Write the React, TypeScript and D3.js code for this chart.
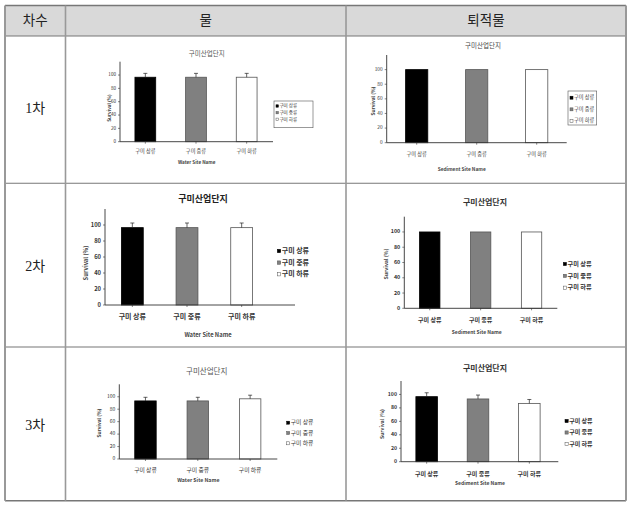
import * as d3 from "d3";

// --- data ---
const ROUNDS = ["1차", "2차", "3차"];
const MEDIA = ["물", "퇴적물"];
const SITES = ["구미 상류", "구미 중류", "구미 하류"];
const Y_TICKS = [0, 20, 40, 60, 80, 100];

const WATER_1 = [96.7, 96.7, 96.7];
const WATER_1_ERR = [5.8, 5.8, 5.8];
const SEDIMENT_1 = [100, 100, 100];
const SEDIMENT_1_ERR = [0, 0, 0];
const WATER_2 = [96.7, 96.7, 96.7];
const WATER_2_ERR = [5.8, 5.8, 5.8];
const SEDIMENT_2 = [100, 100, 100];
const SEDIMENT_2_ERR = [0, 0, 0];
const WATER_3 = [93.3, 93.3, 96.7];
const WATER_3_ERR = [5.8, 5.8, 5.8];
const SEDIMENT_3 = [96.7, 93.3, 86.7];
const SEDIMENT_3_ERR = [5.8, 5.8, 5.8];

const TITLE = "구미산업단지";
const Y_TITLE = "Survival (%)";

const BAR_FILL = ["#000000", "#808080", "#ffffff"];
const BAR_STROKE = ["#000000", "#555555", "#555555"];
const FONT = "'Noto Sans CJK KR', 'Noto Sans', sans-serif";
const SERIF = "'Liberation Serif', 'Noto Sans CJK KR', serif";

type ChartCfg = {
  values: number[];
  errs: number[];
  xTitle: string;
  axisX: number;
  y0: number;
  yTop: number;
  bandEnd: number;
  axisEnd: number;
  pad: number;
  title: [number, number, number, boolean, string];
  tick: number;
  labelY: number;
  labelSize: number;
  xTitlePos: [number, number, number];
  yTitlePos: [number, number, number];
  legend: [number, number, number, number, number];
  box?: [number, number, number, number];
  bold: boolean;
};

const CHARTS: ChartCfg[] = [
  {
    values: WATER_1, errs: WATER_1_ERR, xTitle: "Water Site Name",
    axisX: 120, y0: 141.7, yTop: 61.7, bandEnd: 272, axisEnd: 273, pad: 0.59,
    title: [206.7, 55.5, 6.5, false, "#555"], tick: 4.6, labelY: 152, labelSize: 5.2,
    xTitlePos: [196.7, 162.5, 4.6], yTitlePos: [109.5, 108, 4.6],
    legend: [276, 106, 6.65, 2.4, 4.6], box: [274, 101, 39, 26.7], bold: false,
  },
  {
    values: SEDIMENT_1, errs: SEDIMENT_1_ERR, xTitle: "Sediment Site Name",
    axisX: 386.7, y0: 142.7, yTop: 55, bandEnd: 566.7, axisEnd: 566.7, pad: 0.63,
    title: [483, 47.5, 6.5, false, "#444"], tick: 4.8, labelY: 154.5, labelSize: 5.2,
    xTitlePos: [461.7, 170, 4.8], yTitlePos: [373.5, 101, 4.8],
    legend: [570, 97.7, 11.65, 3, 5.2], box: [568, 91, 28.7, 34], bold: false,
  },
  {
    values: WATER_2, errs: WATER_2_ERR, xTitle: "Water Site Name",
    axisX: 105, y0: 305, yTop: 209, bandEnd: 269, axisEnd: 295, pad: 0.6,
    title: [203, 201.5, 9, true, "#222"], tick: 5.8, labelY: 317.5, labelSize: 7,
    xTitlePos: [208, 335.5, 5.8], yTitlePos: [86, 263, 5.8],
    legend: [277.3, 251, 11.6, 3.4, 7], bold: true,
  },
  {
    values: SEDIMENT_2, errs: SEDIMENT_2_ERR, xTitle: "Sediment Site Name",
    axisX: 404.3, y0: 308.3, yTop: 216.7, bandEnd: 557, axisEnd: 557.3, pad: 0.6,
    title: [485, 205, 8, true, "#333"], tick: 5.4, labelY: 320.5, labelSize: 6,
    xTitlePos: [476.7, 333, 5], yTitlePos: [387, 264, 5.2],
    legend: [563.3, 264, 11.85, 3.2, 6.2], bold: true,
  },
  {
    values: WATER_3, errs: WATER_3_ERR, xTitle: "Water Site Name",
    axisX: 119.3, y0: 459, yTop: 384.3, bandEnd: 276.3, axisEnd: 277.3, pad: 0.59,
    title: [206.7, 373.5, 7.5, false, "#555"], tick: 5, labelY: 470.5, labelSize: 5.8,
    xTitlePos: [198.3, 481, 5.2], yTitlePos: [100, 423, 4.8],
    legend: [286.7, 422.7, 10.3, 3, 5.8], bold: false,
  },
  {
    values: SEDIMENT_3, errs: SEDIMENT_3_ERR, xTitle: "Sediment Site Name",
    axisX: 401, y0: 461.7, yTop: 381, bandEnd: 555, axisEnd: 558.3, pad: 0.58,
    title: [485, 370.5, 8, true, "#333"], tick: 5.2, labelY: 474, labelSize: 6,
    xTitlePos: [480, 484, 5], yTitlePos: [382.5, 424, 5],
    legend: [565, 421, 11.5, 3.2, 6], bold: true,
  },
];

function BarChart({ c }: { c: ChartCfg }) {
  const y = d3.scaleLinear().domain([0, 120]).range([c.y0, c.yTop]);
  const x = d3
    .scaleBand<string>()
    .domain(SITES)
    .range([c.axisX, c.bandEnd])
    .paddingInner(c.pad)
    .paddingOuter(c.pad / 2);
  const fw = c.bold ? 700 : 400;
  const [lx, ly, lstep, sq, lsize] = c.legend;

  return (
    <g fontFamily={FONT} fill="#333">
      <text x={c.title[0]} y={c.title[1]} fontSize={c.title[2]}
        fontWeight={c.title[3] ? 700 : 400} fill={c.title[4]} textAnchor="middle">
        {TITLE}
      </text>

      {/* bars */}
      {SITES.map((s, i) => {
        const x0 = x(s) as number;
        const top = y(c.values[i]);
        const cx = x0 + x.bandwidth() / 2;
        return (
          <g key={s}>
            <rect x={x0} y={top} width={x.bandwidth()} height={c.y0 - top}
              fill={BAR_FILL[i]} stroke={BAR_STROKE[i]} strokeWidth={0.8} />
            {c.errs[i] > 0 && (
              <g stroke="#222" strokeWidth={0.7}>
                <line x1={cx} x2={cx} y1={top} y2={y(c.values[i] + c.errs[i])} />
                <line x1={cx - 2} x2={cx + 2} y1={y(c.values[i] + c.errs[i])} y2={y(c.values[i] + c.errs[i])} />
              </g>
            )}
            <line x1={cx} x2={cx} y1={c.y0} y2={c.y0 + 2} stroke="#333" strokeWidth={0.6} />
            <text x={cx} y={c.labelY} fontSize={c.labelSize} fontWeight={fw} textAnchor="middle"
              dominantBaseline="middle">
              {s}
            </text>
          </g>
        );
      })}

      {/* axes */}
      <line x1={c.axisX} x2={c.axisX} y1={c.yTop} y2={c.y0} stroke="#333" strokeWidth={0.9} />
      <line x1={c.axisX} x2={c.axisEnd} y1={c.y0} y2={c.y0} stroke="#333" strokeWidth={0.9} />
      {Y_TICKS.map((t) => (
        <g key={t}>
          <line x1={c.axisX - 2} x2={c.axisX} y1={y(t)} y2={y(t)} stroke="#333" strokeWidth={0.6} />
          <text x={c.axisX - 4} y={y(t)} fontSize={c.tick} fontWeight={fw} textAnchor="end"
            dominantBaseline="middle">
            {t}
          </text>
        </g>
      ))}

      <text x={c.xTitlePos[0]} y={c.xTitlePos[1]} fontSize={c.xTitlePos[2]} fontWeight={700}
        textAnchor="middle" dominantBaseline="middle" fill="#444">
        {c.xTitle}
      </text>
      <text transform={`translate(${c.yTitlePos[0]},${c.yTitlePos[1]}) rotate(-90)`}
        fontSize={c.yTitlePos[2]} fontWeight={700} textAnchor="middle" dominantBaseline="middle" fill="#444">
        {Y_TITLE}
      </text>

      {/* legend */}
      {c.box && (
        <rect x={c.box[0]} y={c.box[1]} width={c.box[2]} height={c.box[3]}
          fill="none" stroke="#555" strokeWidth={0.6} />
      )}
      {SITES.map((s, i) => (
        <g key={"lg" + s}>
          <rect x={lx} y={ly + i * lstep - sq / 2} width={sq} height={sq}
            fill={BAR_FILL[i]} stroke={BAR_STROKE[i]} strokeWidth={0.5} />
          <text x={lx + sq + 1} y={ly + i * lstep} fontSize={lsize} fontWeight={fw}
            dominantBaseline="middle">
            {s}
          </text>
        </g>
      ))}
    </g>
  );
}

export default function App() {
  const colX = [5, 65.5, 346, 626];
  const rowY = [5.5, 36, 183.3, 347, 500.7];
  const rowLabelY = [108, 266, 425];

  return (
    <svg width={635} height={509} style={{ position: "absolute", left: 0, top: 0 }}>
      <rect width={635} height={509} fill="#fff" />
      {/* header */}
      <rect x={colX[0]} y={rowY[0]} width={colX[3] - colX[0]} height={rowY[1] - rowY[0]} fill="#d9d9d9" />
      <text x={(colX[0] + colX[1]) / 2} y={(rowY[0] + rowY[1]) / 2} fontFamily={SERIF} fontSize={13.5}
        textAnchor="middle" dominantBaseline="central" fill="#222">
        차수
      </text>
      {MEDIA.map((m, i) => (
        <text key={m} x={(colX[i + 1] + colX[i + 2]) / 2} y={(rowY[0] + rowY[1]) / 2} fontFamily={SERIF}
          fontSize={13.5} textAnchor="middle" dominantBaseline="central" fill="#222">
          {m}
        </text>
      ))}
      {ROUNDS.map((r, i) => (
        <text key={r} x={(colX[0] + colX[1]) / 2} y={rowLabelY[i]} fontFamily={SERIF} fontSize={14}
          textAnchor="middle" dominantBaseline="central" fill="#222">
          {r}
        </text>
      ))}

      {CHARTS.map((c, i) => (
        <BarChart key={i} c={c} />
      ))}

      {/* table grid */}
      {rowY.map((yy, i) => (
        <line key={"h" + i} x1={colX[0]} x2={colX[3]} y1={yy} y2={yy}
          stroke="#777" strokeWidth={i === 0 || i === rowY.length - 1 ? 1.6 : 1.1} />
      ))}
      {colX.map((xx, i) => (
        <line key={"v" + i} x1={xx} x2={xx} y1={rowY[0]} y2={rowY[rowY.length - 1]}
          stroke="#999" strokeWidth={i === 0 || i === colX.length - 1 ? 2 : 1.6} />
      ))}
    </svg>
  );
}
